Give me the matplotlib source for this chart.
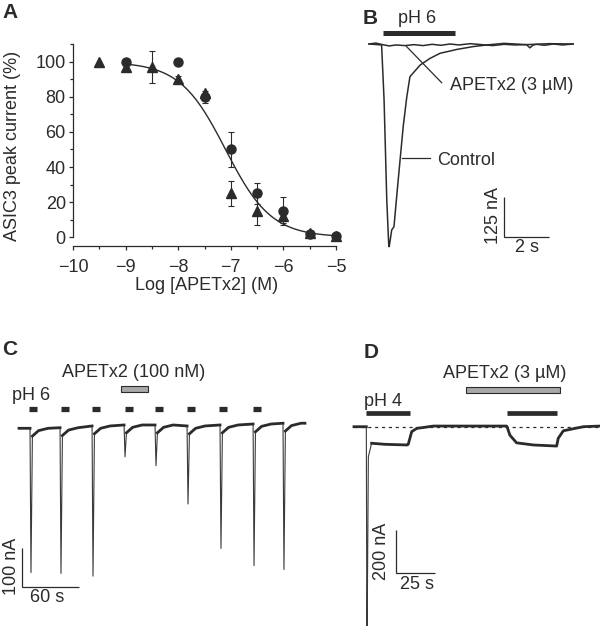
import matplotlib
matplotlib.use('Agg')
import matplotlib.pyplot as plt
import numpy as np
from matplotlib.patches import Rectangle
from matplotlib.ticker import MultipleLocator

plt.rcParams['font.family'] = ['Liberation Sans', 'DejaVu Sans']

# ---------------- data ----------------
# Panel A: concentration-response
log_conc_circ = [-9, -8, -7.5, -7, -6.5, -6, -5.5, -5]
pct_circ = [100, 100, 80, 50, 25, 15, 1.5, 0.5]
err_circ = [0, 0, 3.5, 10, 6, 8, 0, 0]
log_conc_tri = [-9.5, -9, -8.5, -8, -7.5, -7, -6.5, -6, -5.5, -5]
pct_tri = [100, 97, 97, 90, 82, 25, 15, 12, 2.5, 0.5]
err_tri = [0, 2, 9, 2, 0, 7, 8, 4, 0, 0]
fit_log_ic50 = -7.1
fit_hill = 1.0
fit_range = (-9, -5)
a_xticks = [-10, -9, -8, -7, -6, -5]
a_yticks = [0, 20, 40, 60, 80, 100]

# Panel B: single pH 6 responses (time s, current nA)
ctrl_t = [0, 0.56, 0.67, 0.79, 0.88, 0.90, 1.01, 1.11, 1.23, 1.38, 1.52, 1.68,
          1.82, 2.27, 2.71, 3.16, 3.90, 4.64, 5.23, 6.0, 7.0, 8.0, 9.07]
ctrl_i = [0, -3, -175, -488, -633, -633, -581, -571, -477, -363, -258, -165,
          -102, -66, -45, -29, -17, -8, -3, 2, -2, 1, 0]
apetx_t = [0, 0.3, 0.6, 0.9, 1.2, 1.6, 2.0, 2.4, 2.8, 3.2, 3.6, 4.0, 4.5, 5.0,
           5.5, 6.0, 6.5, 7.0, 7.15, 7.3, 7.45, 7.8, 8.2, 8.6, 9.07]
apetx_i = [0, 3, -2, -6, -3, -5, -2, -5, -1, -4, 0, -3, 1, -2,
           -5, -1, -3, -2, -12, -3, -1, -4, 0, -3, 0]
b_ph_bar = (0.62, 3.82)
b_scale_nA, b_scale_s = 125, 2

# Panel C: repeated pH 6 pulses with APETx2 100 nM
c_onset = [12.6, 44.2, 77.9, 111.6, 144.2, 177.9, 212.6, 247.4, 278.9]
c_base = [0, 1.5, 6, 8.5, 8.5, 6, 8.5, 11, 13]
c_peak = [-370, -372, -379, -73, -96, -194, -308, -352, -362]
c_end = 301
c_ph_start = [10.5, 44.2, 76.8, 111.6, 143.2, 176.8, 210.5, 246.3]
c_ph_dur = 8.6
c_toxin = (107.4, 135.8)
c_scale_nA, c_scale_s = 100, 60

# Panel D: pH 4 sustained current
d_t = [0, 7.9, 8.3, 9.2, 11.3, 20, 34.2, 34.8, 37.0, 40.2, 50.9, 70, 97.8,
       98.2, 99.9, 104.2, 115, 129.9, 130.9, 134.2, 147.0, 157.7]
d_i = [0, 0, -1100, -140, -77, -82, -85, -81, -23, -8, 3, 3, 3,
       -1.5, -39, -75, -85, -90, -54, -19, 0, 3]
d_ph = [(7.7, 35.9), (98.1, 130.1)]
d_toxin = (71.8, 132.1)
d_scale_nA, d_scale_s = 200, 25

# ---------------- layout helpers ----------------
W, H = 600, 626
fig = plt.figure(figsize=(W / 100, H / 100), dpi=100)
INK = '#2b2b2b'
FS = 13


def T(x, y, s, **kw):
    kw.setdefault('fontsize', FS)
    kw.setdefault('color', INK)
    return fig.text(x / W, 1 - y / H, s, **kw)


def px_axes(x0, y0, x1, y1):
    return fig.add_axes([x0 / W, 1 - y1 / H, (x1 - x0) / W, (y1 - y0) / H])


def trace_axes(box, origin, ppx, ppy):
    x0, y0, x1, y1 = box
    ox, oy = origin
    ax = px_axes(*box)
    ax.set_xlim((x0 - ox) / ppx, (x1 - ox) / ppx)
    ax.set_ylim(-(y1 - oy) / ppy, -(y0 - oy) / ppy)
    ax.axis('off')
    return ax


def scale_bar(ax, x, y, sx, sy):
    ax.plot([x, x, x + sx], [y + sy, y, y], color=INK, lw=0.9,
            solid_capstyle='butt', solid_joinstyle='miter')


def toxin_bar(ax, t0, t1, yc, h):
    ax.add_patch(Rectangle((t0, yc - h / 2), t1 - t0, h, facecolor='#a8a8a8',
                           edgecolor=INK, lw=0.8))

# ---------------- Panel A ----------------
axA = px_axes(73, 43, 336, 246)
axA.set_xlim(-10, -5)
axA.set_ylim(-5.1, 110.8)
for s in ('top', 'right'):
    axA.spines[s].set_visible(False)
axA.spines['left'].set_bounds(0, 110)
for s in ('left', 'bottom'):
    axA.spines[s].set_linewidth(0.9)
    axA.spines[s].set_color(INK)
axA.set_xticks(a_xticks)
axA.set_yticks(a_yticks)
axA.xaxis.set_minor_locator(MultipleLocator(0.5))
axA.yaxis.set_minor_locator(MultipleLocator(10))
axA.tick_params(which='major', length=3.2, width=0.9, color=INK,
                labelsize=FS, labelcolor=INK)
axA.tick_params(which='minor', length=2.2, width=0.9, color=INK)
axA.tick_params(axis='x', pad=6)
axA.tick_params(axis='y', pad=2)

xf = np.linspace(fit_range[0], fit_range[1], 200)
yf = 100 / (1 + 10 ** ((xf - fit_log_ic50) * fit_hill))
axA.plot(xf, yf, color=INK, lw=1.0, clip_on=False)

ec = [(x, y, e) for x, y, e in zip(log_conc_circ, pct_circ, err_circ) if e > 0]
axA.errorbar([v[0] for v in ec], [v[1] for v in ec], yerr=[v[2] for v in ec],
             fmt='none', ecolor=INK, elinewidth=0.8, capsize=2.2, capthick=0.8)
et = [(x, y, e) for x, y, e in zip(log_conc_tri, pct_tri, err_tri) if e > 0]
axA.errorbar([v[0] for v in et], [v[1] for v in et], yerr=[v[2] for v in et],
             fmt='none', ecolor=INK, elinewidth=0.8, capsize=2.2, capthick=0.8)
axA.plot(log_conc_circ, pct_circ, 'o', color=INK, ms=6.5, clip_on=False, zorder=3)
axA.plot(log_conc_tri, pct_tri, '^', color=INK, ms=7, clip_on=False, zorder=3)

T(2, 18.3, 'A', fontsize=15, fontweight='bold')
T(13, 146, 'ASIC3 peak current (%)', rotation=90, ha='center', va='center')
T(207, 290, 'Log [APETx2] (M)', ha='center', va='baseline')

# ---------------- Panel B ----------------
axB = trace_axes((340, 0, 600, 300), (369, 44), 22.5, 0.32)
axB.plot(apetx_t, apetx_i, color=INK, lw=1.1)
axB.plot(ctrl_t, ctrl_i, color=INK, lw=1.1)
axB.plot(b_ph_bar, [34, 34], color=INK, lw=3.6, solid_capstyle='butt')
axB.plot([1.67, 3.23], [-8, -121], color=INK, lw=0.9)
axB.plot([1.45, 2.71], [-357, -357], color=INK, lw=0.9)
scale_bar(axB, 6.0, -603, b_scale_s, b_scale_nA)
T(362.7, 24, 'B', fontsize=15, fontweight='bold')
T(398, 22.7, 'pH 6', va='baseline')
T(450, 90, 'APETx2 (3 µM)', va='baseline')
T(436.7, 165, 'Control', va='baseline')
T(494, 216, '125 nA', rotation=90, ha='center', va='center')
T(527, 251.7, '2 s', ha='center', va='baseline')

# ---------------- Panel C ----------------
axC = trace_axes((0, 300, 310, 626), (19, 428.3), 0.95, 0.39)
ct, ci, ci_thick = [0], [c_base[0]], [c_base[0]]
for k, (t, b, p) in enumerate(zip(c_onset, c_base, c_peak)):
    pts = [(t - 1.0, b), (t, p), (t + 1.5, b - 20), (t + 8, b - 6), (t + 18, b)]
    for j, (tt, ii) in enumerate(pts):
        ct.append(tt)
        ci.append(ii)
        ci_thick.append(np.nan if j == 1 else ii)
ct.append(c_end)
ci.append(c_base[-1])
ci_thick.append(c_base[-1])
axC.plot(ct, ci, color='#3a3a3a', lw=0.8)
axC.plot(ct, ci_thick, color=INK, lw=2.0)
for t0 in c_ph_start:
    axC.plot([t0, t0 + c_ph_dur], [48.7, 48.7], color=INK, lw=3.8,
             solid_capstyle='butt')
toxin_bar(axC, c_toxin[0], c_toxin[1], 100.8, 15.4)
scale_bar(axC, 3.2, -407, c_scale_s, c_scale_nA)
T(1.7, 355, 'C', fontsize=15, fontweight='bold')
T(61.7, 377.3, 'APETx2 (100 nM)', va='baseline')
T(11.7, 400, 'pH 6', va='baseline')
T(11.7, 566, '100 nA', rotation=90, ha='center', va='center')
T(46.7, 601.7, '60 s', ha='center', va='baseline')

# ---------------- Panel D ----------------
axD = trace_axes((350, 300, 600, 626), (354, 426.7), 1.56, 0.215)
axD.plot([d_t[0], d_t[-1]], [0, 0], color=INK, lw=0.9, ls=(0, (2.5, 3)))
d_thick = [np.nan if v < -120 else v for v in d_i]
axD.plot(d_t, d_i, color='#3a3a3a', lw=0.8)
axD.plot(d_t, d_thick, color=INK, lw=2.0)
for t0, t1 in d_ph:
    axD.plot([t0, t1], [64, 64], color=INK, lw=3.4, solid_capstyle='butt')
toxin_bar(axD, d_toxin[0], d_toxin[1], 171, 28)
scale_bar(axD, 26.9, -680, d_scale_s, d_scale_nA)
T(363.3, 358.3, 'D', fontsize=15, fontweight='bold')
T(442.7, 377.7, 'APETx2 (3 µM)', va='baseline')
T(364, 406, 'pH 4', va='baseline')
T(381.7, 551.7, '200 nA', rotation=90, ha='center', va='center')
T(416.7, 589.3, '25 s', ha='center', va='baseline')

fig.savefig('out.png', dpi=100)
